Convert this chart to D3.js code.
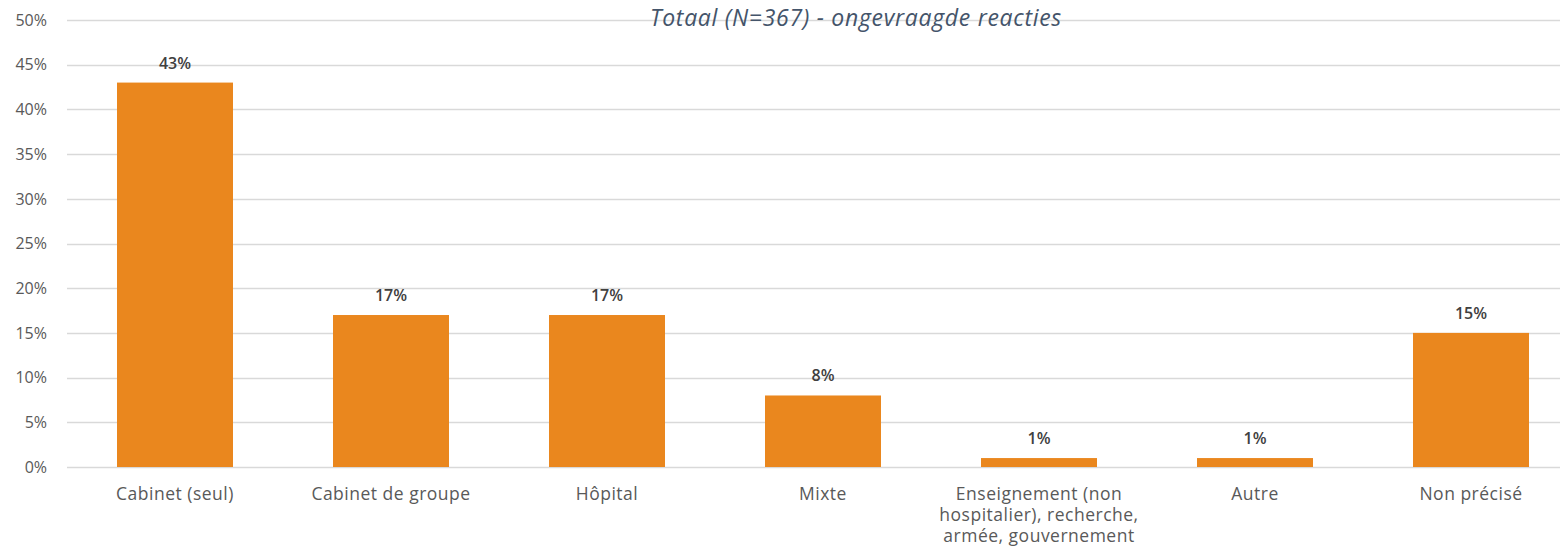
<!DOCTYPE html>
<html>
<head>
<meta charset="utf-8">
<script src="https://cdn.jsdelivr.net/npm/d3@7"></script>
<style>
  body { margin: 0; background: #fff; }
  svg { display: block; font-family: "Open Sans", Roboto, sans-serif; }
</style>
</head>
<body>
<svg id="chart"></svg>
<script>
const categories = [
    "Cabinet (seul)",
    "Cabinet de groupe",
    "Hôpital",
    "Mixte",
    "Enseignement (non|hospitalier), recherche,|armée, gouvernement",
    "Autre",
    "Non précisé"
];
const values = [43, 17, 17, 8, 1, 1, 15];
const yTicks = [0, 5, 10, 15, 20, 25, 30, 35, 40, 45, 50];
const title = "Totaal (N=367) - ongevraagde reacties";

const width = 1560, height = 551;
const svg = d3.select("#chart")
    .attr("width", width)
    .attr("height", height);

const x = d3.scaleBand()
    .domain(categories)
    .range([67, 1579])
    .paddingInner(0.463)
    .paddingOuter(0.2315);

const y = d3.scaleLinear()
    .domain([0, 50])
    .range([467, 20]);

// gridlines
svg.append("g")
    .selectAll("line")
    .data(yTicks)
    .enter().append("line")
    .attr("x1", 67)
    .attr("x2", width)
    .attr("y1", d => Math.round(y(d)) + 0.5)
    .attr("y2", d => Math.round(y(d)) + 0.5)
    .style("stroke", "#d9d9d9")
    .style("stroke-width", 1.3);

// y axis labels
svg.append("g")
    .selectAll("text")
    .data(yTicks)
    .enter().append("text")
    .attr("x", 47)
    .attr("y", d => y(d))
    .attr("dy", "0.36em")
    .attr("text-anchor", "end")
    .style("font-size", "16px")
    .style("font-weight", "500")
    .style("fill", "#595959")
    .text(d => d + "%");

// bars
svg.append("g")
    .selectAll("rect")
    .data(values)
    .enter().append("rect")
    .attr("x", (d, i) => x(categories[i]))
    .attr("width", x.bandwidth())
    .attr("y", d => y(d))
    .attr("height", d => y(0) - y(d))
    .style("fill", "#ea871e");

// value labels
svg.append("g")
    .selectAll("text")
    .data(values)
    .enter().append("text")
    .attr("x", (d, i) => x(categories[i]) + x.bandwidth() / 2)
    .attr("y", d => y(d) - 14)
    .attr("text-anchor", "middle")
    .style("font-size", "16px")
    .style("font-weight", "600")
    .style("fill", "#404040")
    .text(d => d + "%");

// category labels
const cat = svg.append("g")
    .selectAll("text")
    .data(categories)
    .enter().append("text")
    .attr("x", d => x(d) + x.bandwidth() / 2)
    .attr("y", 500)
    .attr("text-anchor", "middle")
    .style("font-size", "17.5px")
    .style("font-weight", "500")
    .style("letter-spacing", "0.5px")
    .style("fill", "#595959");

cat.each(function (d) {
    const lines = d.split("|");
    d3.select(this).selectAll("tspan")
        .data(lines)
        .enter().append("tspan")
        .attr("x", d3.select(this).attr("x"))
        .attr("dy", (l, i) => i === 0 ? 0 : 21)
        .text(l => l);
});

// title
svg.append("text")
    .attr("x", 856)
    .attr("y", 26)
    .attr("text-anchor", "middle")
    .style("font-size", "23px")
    .style("font-style", "italic")
    .style("font-weight", "500")
    .style("letter-spacing", "0.7px")
    .style("fill", "#44546a")
    .text(title);
</script>
</body>
</html>
